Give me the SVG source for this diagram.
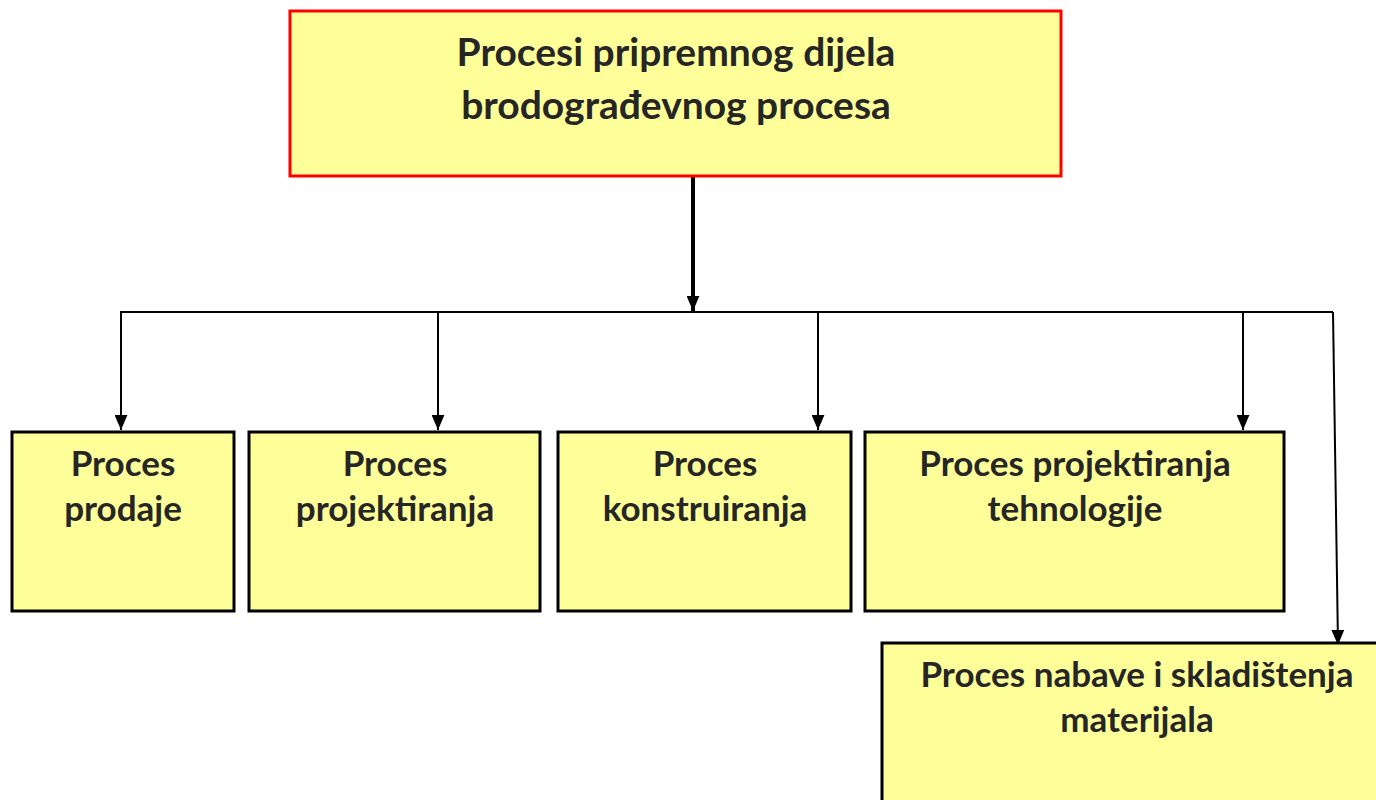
<svg xmlns="http://www.w3.org/2000/svg" width="1376" height="800" viewBox="0 0 1376 800">
<style>
.box{fill:#FFFF99;stroke:#000;stroke-width:3}
.top{fill:#FFFF99;stroke:#FF0000;stroke-width:3}
.t{font-family:Lato,"Open Sans",sans-serif;font-weight:bold;fill:#262626;text-anchor:middle;font-size:35px}
.tt{font-size:39px}
.c{stroke:#000;stroke-width:2;fill:none}
</style>
<defs>
<marker id="ah2" viewBox="0 0 14 12" refX="14" refY="6" markerWidth="15" markerHeight="13" orient="auto" markerUnits="userSpaceOnUse">
<path d="M0,0 L14,6 L0,12 Z" fill="#000"/>
</marker>
</defs>
<g id="connectors">
<line x1="693" y1="177" x2="693" y2="311" stroke="#000" stroke-width="4" marker-end="url(#ah2)"/>
<line class="c" x1="120" y1="312" x2="1333" y2="312"/>
<line class="c" x1="121" y1="312" x2="121" y2="430" marker-end="url(#ah2)"/>
<line class="c" x1="438" y1="312" x2="438" y2="430" marker-end="url(#ah2)"/>
<line class="c" x1="818" y1="312" x2="818" y2="430" marker-end="url(#ah2)"/>
<line class="c" x1="1243" y1="312" x2="1243" y2="430" marker-end="url(#ah2)"/>
<line class="c" x1="1333" y1="312" x2="1338" y2="645" marker-end="url(#ah2)"/>
</g>
<g id="node-top">
<rect class="top" x="290" y="11" width="771" height="165"/>
<text class="t tt" x="676" y="66">Procesi pripremnog dijela</text>
<text class="t tt" x="676" y="119">brodograđevnog procesa</text>
</g>
<g id="node-prodaja">
<rect class="box" x="12" y="432" width="222" height="179"/>
<text class="t" x="123" y="476">Proces</text>
<text class="t" x="123" y="521">prodaje</text>
</g>
<g id="node-projektiranje">
<rect class="box" x="249" y="432" width="291" height="179"/>
<text class="t" x="395" y="476">Proces</text>
<text class="t" x="395" y="521">projektiranja</text>
</g>
<g id="node-konstruiranje">
<rect class="box" x="558" y="432" width="293" height="179"/>
<text class="t" x="705" y="476">Proces</text>
<text class="t" x="705" y="521">konstruiranja</text>
</g>
<g id="node-tehnologija">
<rect class="box" x="865" y="432" width="419" height="179"/>
<text class="t" x="1075" y="476">Proces projektiranja</text>
<text class="t" x="1075" y="521">tehnologije</text>
</g>
<g id="node-nabava">
<rect class="box" x="882" y="643" width="500" height="170"/>
<text class="t" x="1137" y="687">Proces nabave i skladištenja</text>
<text class="t" x="1137" y="732">materijala</text>
</g>
</svg>
